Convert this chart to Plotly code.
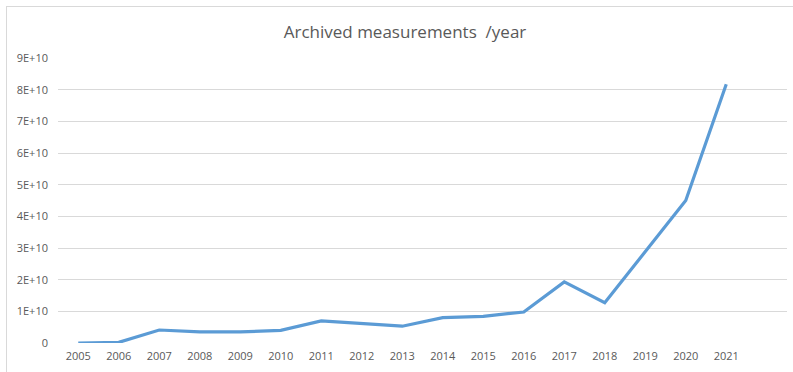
import plotly.graph_objects as go

years = [2005, 2006, 2007, 2008, 2009, 2010, 2011, 2012, 2013, 2014, 2015, 2016, 2017, 2018, 2019, 2020, 2021]
values = [0.0, 0.02e10, 0.41e10, 0.35e10, 0.35e10, 0.40e10, 0.70e10, 0.61e10, 0.53e10, 0.80e10, 0.84e10, 0.98e10,
          1.93e10, 1.27e10, 2.90e10, 4.50e10, 8.17e10]
ytick_vals = [0, 1e10, 2e10, 3e10, 4e10, 5e10, 6e10, 7e10, 8e10, 9e10]
ytick_text = ["0", "1E+10", "2E+10", "3E+10", "4E+10", "5E+10", "6E+10", "7E+10", "8E+10", "9E+10"]
title_text = "Archived measurements  /year"

W, H = 793, 372
ml, mr, mt, mb = 58, 6, 58, 29

fig = go.Figure()
fig.add_trace(go.Scatter(x=years, y=values, mode="lines",
                         line=dict(color="#5B9BD5", width=3.2), showlegend=False))

font_fam = "Open Sans, Liberation Sans, sans-serif"
fig.update_layout(
    width=W, height=H,
    margin=dict(l=ml, r=mr, t=mt, b=mb),
    paper_bgcolor="white", plot_bgcolor="white",
    font=dict(family=font_fam, color="#595959", size=11),
    title=dict(text=title_text, x=405 / W, xanchor="center", y=1 - 32 / H, yanchor="middle",
               font=dict(size=17, color="#595959", family=font_fam)),
    xaxis=dict(range=[2004.5, 2022.5], tickmode="array", tickvals=years,
               ticktext=[str(y) for y in years], showgrid=False, zeroline=False,
               showline=False, ticks="", ticklabelstandoff=5,
               tickfont=dict(size=11, color="#595959")),
    yaxis=dict(range=[0, 9e10], tickmode="array", tickvals=ytick_vals, ticktext=ytick_text,
               showgrid=True, gridcolor="#D9D9D9", gridwidth=1, zeroline=False,
               showline=False, ticks="", ticklabelstandoff=9,
               tickfont=dict(size=11, color="#595959")),
)

pw = W - ml - mr
ph = H - mt - mb
def px(x):
    return (x - ml) / pw
def py(y):
    return (H - mb - y) / ph

fig.add_shape(type="line", xref="paper", yref="paper", x0=px(6), x1=px(793), y0=py(6.5), y1=py(6.5),
              line=dict(color="#D9D9D9", width=1))
fig.add_shape(type="line", xref="paper", yref="paper", x0=px(6.5), x1=px(6.5), y0=py(6), y1=py(372),
              line=dict(color="#D9D9D9", width=1))

fig.write_html("out.html")
